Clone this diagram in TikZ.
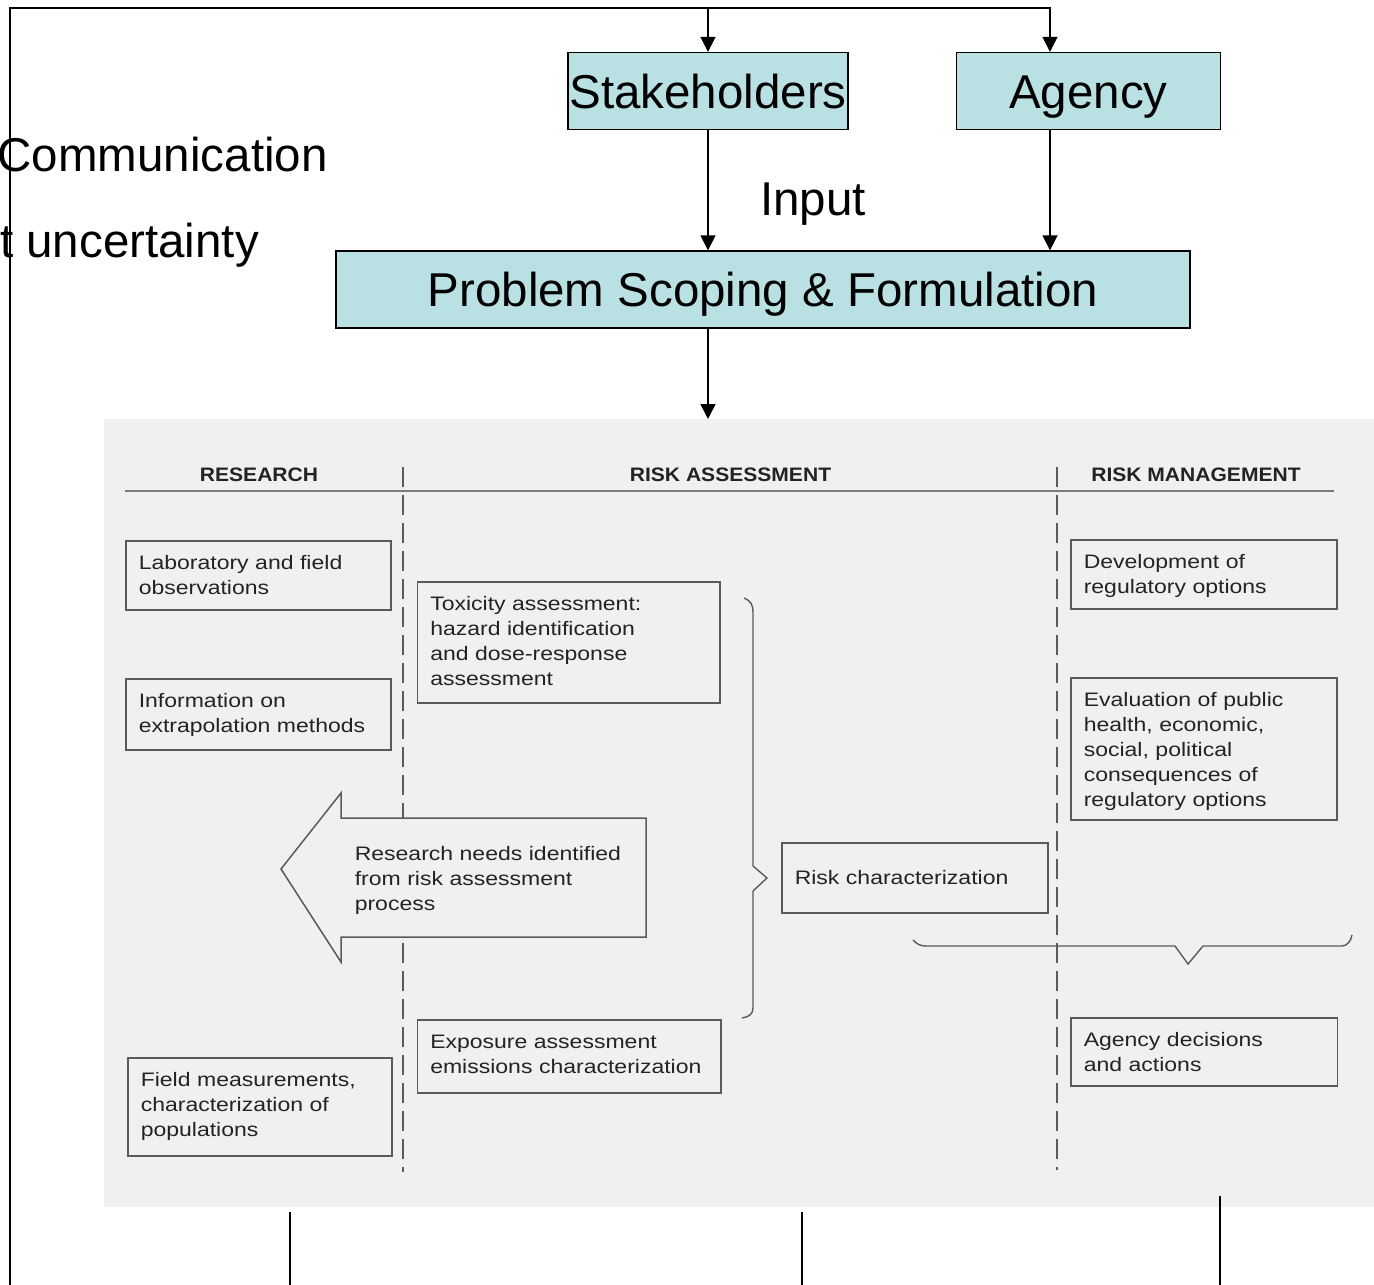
\documentclass[tikz,border=0pt]{standalone}
\usepackage{fontspec}
\setmainfont{Liberation Sans}
\newfontfamily\scanfont[FakeStretch=1.18]{Liberation Sans}
\newfontfamily\headfont[FakeStretch=1.08]{Liberation Sans}
\usetikzlibrary{arrows.meta}

\definecolor{boxcyan}{RGB}{185,224,227}
\definecolor{panelgrey}{RGB}{240,240,240}
\definecolor{scanline}{RGB}{90,90,90}
\definecolor{scantext}{RGB}{35,35,35}

\tikzset{
  topbox/.style={draw, fill=boxcyan, line width=1.3pt, inner sep=0pt,
    minimum height=77pt, text height=34pt, text depth=0pt,
    font=\fontsize{47.5}{57}\selectfont},
  toplabel/.style={inner sep=0pt, font=\fontsize{47.5}{57}\selectfont},
  flow/.style={line width=1.5pt, -{Triangle[length=15pt,width=15pt]}},
  scanbox/.style={draw=scanline, line width=1.5pt, anchor=north west,
    inner ysep=0pt, inner xsep=13pt, align=left, text height=29pt,
    text=scantext, font={\scanfont\fontsize{19.5}{25}\selectfont}},
  scanhead/.style={anchor=base, inner sep=0pt, text=scantext,
    font={\headfont\bfseries\fontsize{19.5}{23}\selectfont}},
  divider/.style={draw=scanline, line width=1.6pt, dash pattern=on 20pt off 8pt},
}

\begin{document}
\begin{tikzpicture}[x=1pt, y=-1pt]
  \useasboundingbox (0,0) rectangle (1374,1285);

  % Input boxes
  \node[topbox, minimum width=280pt] (stake) at (708,91) {Stakeholders};
  \node[topbox, minimum width=264pt] (agency) at (1088.5,91) {Agency};
  \node[topbox, minimum width=854pt] (scope) at (763,289.5) {Problem Scoping \& Formulation};

  % Side texts
  \node[toplabel, anchor=base west] (comm) at (-2.5,171) {Communication};
  \node[toplabel, anchor=base west] (uncert) at (0,257) {t uncertainty};
  \node[toplabel, anchor=base] (input) at (813,215) {Input};

  % Frame and input arrows
  \coordinate (topL) at (10,8);
  \coordinate (topR) at (1050,8);
  \coordinate (baseL) at (10,1285);
  \draw[flow] (baseL) -- (topL) -- (topR) -- (topR |- agency.north);
  \draw[flow] (stake.north |- topL) -- (stake.north);
  \draw[flow] (stake.south) -- (stake.south |- scope.north);
  \draw[flow] (topR |- agency.south) -- (topR |- scope.north);

  % Scanned panel
  \fill[panelgrey] (104,419) rectangle (1374,1207);
  \coordinate (panelN) at (708,419);
  \draw[flow] (stake.south |- scope.south) -- (panelN);

  % Column heads
  \node[scanhead] (hres) at (259,481) {RESEARCH};
  \node[scanhead] (hass) at (730.5,481) {RISK ASSESSMENT};
  \node[scanhead] (hman) at (1196,481) {RISK MANAGEMENT};
  \draw[draw=scanline!80, line width=1.5pt] (125,491) -- (1334,491);
  \draw[divider] (403,467) -- (403,1172);
  \draw[divider] (1057,467) -- (1057,1170);

  % Research column
  \node[scanbox, text width=239pt, text depth=40pt] (lab) at (125,540)
    {Laboratory and field\\observations};
  \node[scanbox, text width=239pt, text depth=42pt] (info) at (125,678)
    {Information on\\extrapolation methods};
  \node[scanbox, text width=238pt, text depth=69pt] (field) at (127,1057)
    {Field measurements,\\characterization of\\populations};

  % Assessment column
  \node[scanbox, text width=276.5pt, text depth=92pt] (tox) at (416.5,581)
    {Toxicity assessment:\\hazard identification\\and dose-response\\assessment};
  \node[scanbox, text width=277.5pt, text depth=44pt] (expo) at (416.5,1019)
    {Exposure assessment\\emissions characterization};
  \node[scanbox, text width=240pt, text height=42pt, text depth=28pt] (riskchar) at (781,842)
    {Risk characterization};

  % Feedback arrow
  \draw[draw=scanline, line width=1.5pt, fill=panelgrey]
    (646,818) -- (341,818) -- (341,793) -- (281,869) -- (341,962)
    -- (341,937) -- (646,937) -- cycle;
  \node[scanbox, draw=none, anchor=base west, inner sep=0pt, text height=,
    text width=290pt] (needs) at (354,860)
    {Research needs identified\\from risk assessment\\process};

  % Management column
  \node[scanbox, text width=240pt, text depth=40pt] (dev) at (1070,539)
    {Development of\\regulatory options};
  \node[scanbox, text width=240pt, text depth=113pt] (eval) at (1070,677)
    {Evaluation of public\\health, economic,\\social, political\\consequences of\\regulatory options};
  \node[scanbox, text width=240.5pt, text depth=39pt] (decide) at (1070,1017)
    {Agency decisions\\and actions};

  % Braces
  \draw[draw=scanline, line width=1.4pt]
    (744,598) .. controls (751,601) and (753,605) .. (753,612) -- (753,866)
    -- (767,878) -- (753,891) -- (753,1008)
    .. controls (753,1014) and (749,1017) .. (742,1018);
  \draw[draw=scanline, line width=1.4pt]
    (913,940) .. controls (917,944) and (920,946) .. (926,946) -- (1175,946)
    -- (1188,964) -- (1203,946) -- (1342,946)
    .. controls (1347,946) and (1351,941) .. (1352,935);

  % Lines below
  \foreach \x/\y in {290/1212, 802/1212, 1220/1196}
    \draw[line width=1.5pt] (\x,\y) -- (\x,1285);

\end{tikzpicture}
\end{document}
